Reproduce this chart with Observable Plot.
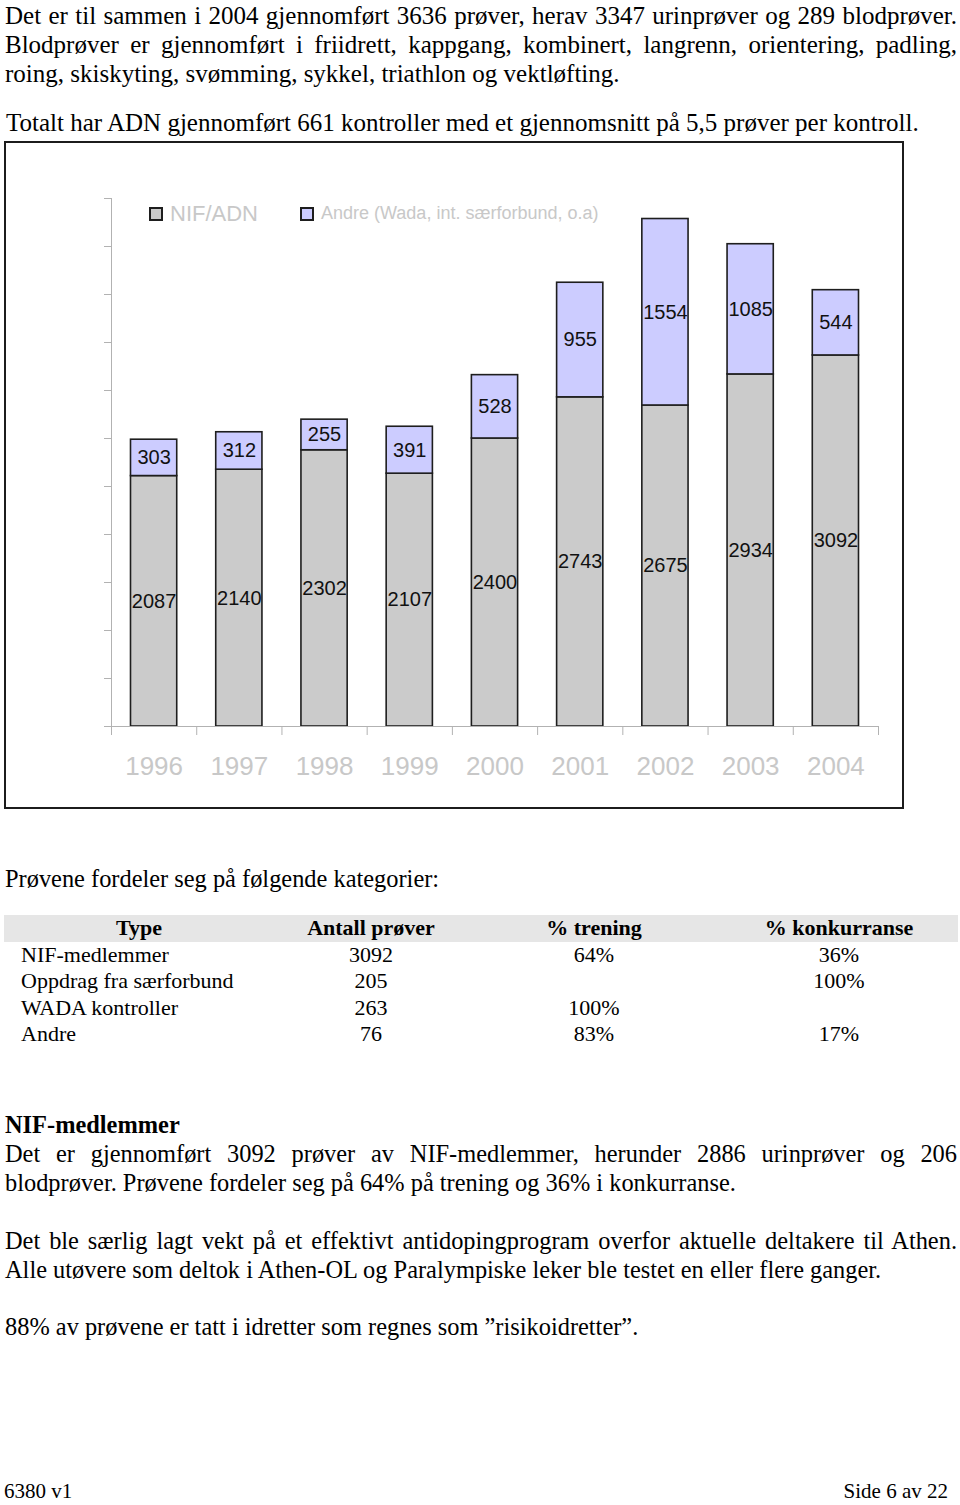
<!DOCTYPE html>
<html>
<head>
<meta charset="utf-8">
<script src="https://cdn.jsdelivr.net/npm/d3@7"></script>
<script src="https://cdn.jsdelivr.net/npm/@observablehq/plot@0.6"></script>
<style>
  html, body { margin: 0; padding: 0; background: #fff; }
  #page { position: relative; width: 960px; height: 1505px; overflow: hidden; font-family: "Liberation Serif", "Times New Roman", serif; color: #000; }
  .ln { position: absolute; left: 5px; width: 952px; font-size: 24.4px; line-height: 29px; white-space: nowrap; }
  .big { font-size: 25px; }
  .just { text-align: justify; text-align-last: justify; }
  #chartbox { position: absolute; left: 4px; top: 141px; width: 900px; height: 668px; box-sizing: border-box; border: 2px solid #1c1c1c; background: #fff; }
  #chartbox svg { position: absolute; left: 0; top: 0; }
  .leg { position: absolute; font-family: "Liberation Sans", Arial, sans-serif; color: #c8c8c8; white-space: nowrap; }
  .sw { position: absolute; width: 14px; height: 14px; box-sizing: border-box; border: 2px solid #1e1e1e; }
  #tbl { position: absolute; left: 4px; top: 915px; border-collapse: collapse; font-size: 22px; table-layout: fixed; }
  #tbl td, #tbl th { padding: 0; height: 26.5px; line-height: 26.5px; text-align: center; white-space: nowrap; }
  #tbl th { background: #e6e6e6; font-weight: bold; }
  #tbl td.first { text-align: left; padding-left: 17px; }
  .foot { position: absolute; top: 1479px; font-size: 21px; line-height: 24px; white-space: nowrap; }
</style>
</head>
<body>
<div id="page">
  <div class="ln big just" style="top:1px">Det er til sammen i 2004 gjennomført 3636 prøver, herav 3347 urinprøver og 289 blodprøver.</div>
  <div class="ln big just" style="top:30px">Blodprøver er gjennomført i friidrett, kappgang, kombinert, langrenn, orientering, padling,</div>
  <div class="ln big" style="top:59px">roing, skiskyting, svømming, sykkel, triathlon og vektløfting.</div>
  <div class="ln big" style="top:108px; left:6px">Totalt har ADN gjennomført 661 kontroller med et gjennomsnitt på 5,5 prøver per kontroll.</div>

  <div id="chartbox"></div>

  <div class="ln" style="top:864px">Prøvene fordeler seg på følgende kategorier:</div>
  <table id="tbl"></table>

  <div class="ln" style="top:1110px; font-weight:bold">NIF-medlemmer</div>
  <div class="ln just" style="top:1139px">Det er gjennomført 3092 prøver av NIF-medlemmer, herunder 2886 urinprøver og 206</div>
  <div class="ln" style="top:1168px">blodprøver. Prøvene fordeler seg på 64% på trening og 36% i konkurranse.</div>
  <div class="ln just" style="top:1226px">Det ble særlig lagt vekt på et effektivt antidopingprogram overfor aktuelle deltakere til Athen.</div>
  <div class="ln" style="top:1255px">Alle utøvere som deltok i Athen-OL og Paralympiske leker ble testet en eller flere ganger.</div>
  <div class="ln" style="top:1312px">88% av prøvene er tatt i idretter som regnes som ”risikoidretter”.</div>

  <div class="foot" style="left:4px">6380 v1</div>
  <div class="foot" style="right:12px">Side 6 av 22</div>
</div>
<script>
// ---- chart data ----
const years = ["1996", "1997", "1998", "1999", "2000", "2001", "2002", "2003", "2004"];
const nifAdn = [2087, 2140, 2302, 2107, 2400, 2743, 2675, 2934, 3092];
const andre = [303, 312, 255, 391, 528, 955, 1554, 1085, 544];
const seriesNames = ["NIF/ADN", "Andre (Wada, int. særforbund, o.a)"];
const seriesColors = ["#cbcbcb", "#ccccff"];
const yTicks = d3.range(0, 4401, 400);

// ---- table data ----
const tableHeader = ["Type", "Antall prøver", "% trening", "% konkurranse"];
const tableTypes = ["NIF-medlemmer", "Oppdrag fra særforbund", "WADA kontroller", "Andre"];
const tableAntall = ["3092", "205", "263", "76"];
const tableTrening = ["64%", "", "100%", "83%"];
const tableKonkurranse = ["36%", "100%", "", "17%"];
const tableColWidths = [270, 194, 252, 238];

// stacked segments
const segs = [];
years.forEach((yr, i) => {
  segs.push({i, series: seriesNames[0], value: nifAdn[i], y1: 0, y2: nifAdn[i]});
  segs.push({i, series: seriesNames[1], value: andre[i], y1: nifAdn[i], y2: nifAdn[i] + andre[i]});
});

const axisGrey = "#b2b2b2";
const chart = Plot.plot({
  width: 896,
  height: 664,
  marginLeft: 105,
  marginRight: 24,
  marginTop: 55,
  marginBottom: 81,
  style: {fontFamily: "Liberation Sans, Arial, sans-serif", background: "transparent"},
  x: {type: "linear", domain: [0, years.length], axis: null},
  y: {domain: [0, 4400], axis: null},
  color: {domain: seriesNames, range: seriesColors},
  marks: [
    Plot.rectY(segs, {
      x1: d => d.i, x2: d => d.i + 1, y1: "y1", y2: "y2",
      fill: "series", stroke: "#1e1e1e", strokeWidth: 1.6,
      insetLeft: 19.5, insetRight: 19.5
    }),
    Plot.ruleX([0], {y1: 0, y2: 4400, stroke: axisGrey}),
    Plot.ruleY([0], {x1: 0, x2: years.length, stroke: axisGrey}),
    Plot.axisY({ticks: yTicks, tickSize: 7, tickFormat: () => "", stroke: axisGrey, label: null}),
    Plot.axisX({ticks: d3.range(0, years.length + 1), tickSize: 9, tickFormat: () => "", stroke: axisGrey, label: null}),
    Plot.text(segs, {
      x: d => d.i + 0.5, y: d => (d.y1 + d.y2) / 2, text: d => String(d.value),
      fontSize: 20, fill: "#111"
    }),
    Plot.text(years, {
      x: (d, i) => i + 0.5, frameAnchor: "bottom", dy: 40, text: d => d,
      fontSize: 26, fill: "#c8c8c8", lineAnchor: "middle"
    })
  ]
});
const box = document.getElementById("chartbox");
box.appendChild(chart);

// legend (HTML, inside chart box)
const legendSpec = [
  {sw: 143, tx: 164, size: 22},
  {sw: 294, tx: 315, size: 18}
];
seriesNames.forEach((name, k) => {
  const s = document.createElement("div");
  s.className = "sw";
  s.style.left = legendSpec[k].sw + "px";
  s.style.top = "64px";
  s.style.background = seriesColors[k];
  box.appendChild(s);
  const t = document.createElement("div");
  t.className = "leg";
  t.style.left = legendSpec[k].tx + "px";
  t.style.top = (71 - legendSpec[k].size * 0.6) + "px";
  t.style.fontSize = legendSpec[k].size + "px";
  t.style.lineHeight = (legendSpec[k].size * 1.2) + "px";
  t.textContent = name;
  box.appendChild(t);
});

// table
const tbl = document.getElementById("tbl");
const cg = document.createElement("colgroup");
tableColWidths.forEach(w => { const c = document.createElement("col"); c.style.width = w + "px"; cg.appendChild(c); });
tbl.appendChild(cg);
tbl.style.width = d3.sum(tableColWidths) + "px";
const hr = document.createElement("tr");
tableHeader.forEach(h => { const th = document.createElement("th"); th.textContent = h; hr.appendChild(th); });
tbl.appendChild(hr);
tableTypes.forEach((t, r) => {
  const tr = document.createElement("tr");
  [t, tableAntall[r], tableTrening[r], tableKonkurranse[r]].forEach((v, c) => {
    const td = document.createElement("td");
    if (c === 0) td.className = "first";
    td.textContent = v;
    tr.appendChild(td);
  });
  tbl.appendChild(tr);
});
</script>
</body>
</html>
